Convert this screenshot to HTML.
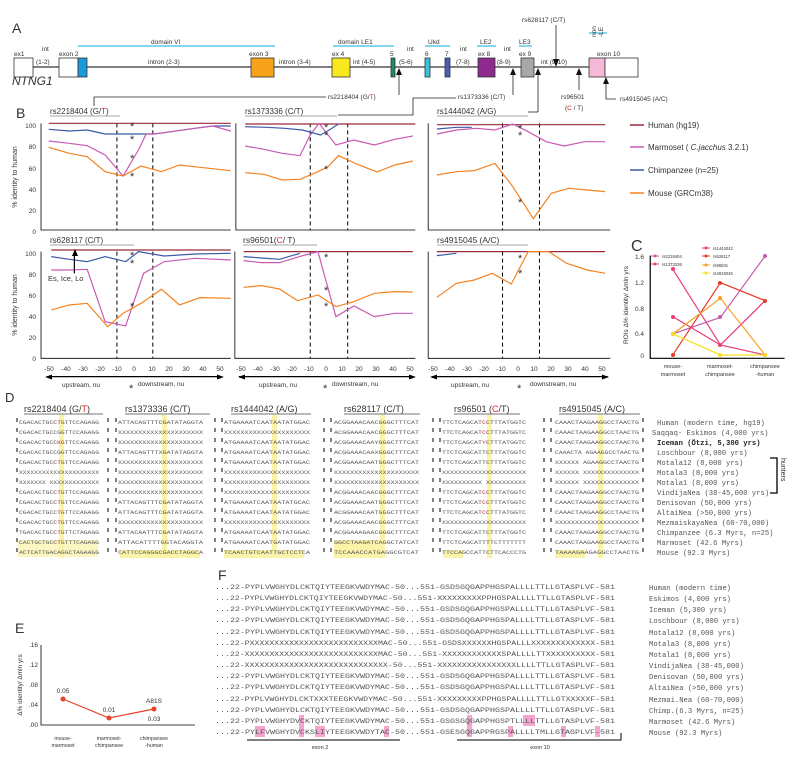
<!DOCTYPE html>
<html><head><meta charset="utf-8"><style>
html,body{margin:0;padding:0;background:#fff}
svg{display:block}
text{font-family:"Liberation Sans",sans-serif;fill:#333}
.m{font-family:"Liberation Mono",monospace;fill:#555}
.ns{vector-effect:non-scaling-stroke;fill:none}
</style></head><body>
<svg width="800" height="757" viewBox="0 0 800 757" xmlns="http://www.w3.org/2000/svg">
<!-- ===== Panel A ===== -->
<text x="12" y="33" font-size="14">A</text>
<line x1="33" y1="67" x2="589" y2="67" stroke="#000" stroke-width="1"/>
<g stroke="#333" stroke-width="0.8">
<rect x="14" y="58" width="19" height="19" fill="#fff"/>
<rect x="59" y="58" width="19" height="19" fill="#fff"/>
<rect x="78" y="58" width="9" height="19" fill="#1a9ad9"/>
<rect x="251" y="58" width="23" height="19" fill="#f7a21b"/>
<rect x="332" y="58" width="18" height="19" fill="#f9e81e"/>
<rect x="391" y="58" width="4" height="19" fill="#1e8a6e"/>
<rect x="425" y="58" width="5" height="19" fill="#3cc0dc"/>
<rect x="445" y="58" width="5" height="19" fill="#4a5fb0"/>
<rect x="478" y="58" width="17" height="19" fill="#8e2a8e"/>
<rect x="521" y="58" width="13" height="19" fill="#a8a8a8"/>
<rect x="589" y="58" width="16" height="19" fill="#f5b8d8"/>
<rect x="605" y="58" width="33" height="19" fill="#fff"/>
</g>
<g stroke="#5ac8e6" stroke-width="1.5">
<line x1="78" y1="46" x2="275" y2="46"/><line x1="333" y1="46" x2="394" y2="46"/>
<line x1="425" y1="46" x2="450" y2="46"/><line x1="477" y1="46" x2="496" y2="46"/>
<line x1="519" y1="46" x2="532" y2="46"/><line x1="589" y1="33" x2="607" y2="33"/>
</g>
<g font-size="6.5">
<text x="14" y="56">ex1</text><text x="42" y="51">int</text><text x="36" y="64">(1-2)</text>
<text x="59" y="56">exon 2</text><text x="148" y="64">intron (2-3)</text>
<text x="249" y="56">exon 3</text><text x="279" y="64">intron (3-4)</text>
<text x="332" y="56">ex 4</text><text x="353" y="64">int (4-5)</text>
<text x="390" y="56">5</text><text x="407" y="51">int</text><text x="399" y="64">(5-6)</text>
<text x="425" y="56">6</text><text x="445" y="56">7</text>
<text x="460" y="51">int</text><text x="456" y="64">(7-8)</text>
<text x="478" y="56">ex 8</text><text x="504" y="51">int</text><text x="497" y="64">(8-9)</text>
<text x="519" y="56">ex 9</text><text x="541" y="64">int (9-10)</text>
<text x="597" y="56">exon 10</text>
<text x="151" y="44">domain  VI</text><text x="338" y="44">domain  LE1</text>
<text x="428" y="44">Ukd</text><text x="480" y="44">LE2</text><text x="519" y="44">LE3</text>
<text transform="translate(596,37) rotate(-90)">non</text>
<text transform="translate(603,37) rotate(-90)">-LE</text>
<text x="522" y="22">rs628117 (C/T)</text>
<text x="328" y="99">rs2218404 (G/<tspan fill="#e02020">T</tspan>)</text>
<text x="458" y="99">rs1373336 (C/T)</text>
<text x="561" y="99">rs96501</text>
<text x="565" y="110">(<tspan fill="#e02020">C</tspan> / T)</text>
<text x="620" y="101">rs4915045 (A/C)</text>
</g>
<text x="12" y="85" font-size="12" font-style="italic">NTNG1</text>
<g stroke="#222" stroke-width="0.8" fill="none">
<line x1="556" y1="25" x2="556" y2="60"/>
<line x1="399" y1="95" x2="399" y2="74"/>
<polyline points="94,106 94,97 326,97"/>
<line x1="513" y1="95" x2="513" y2="74"/>
<polyline points="338,115 413,115 413,98 456,98"/>
<line x1="538" y1="112" x2="538" y2="74"/>
<polyline points="528,112 538,112"/>
<line x1="579" y1="90" x2="579" y2="74"/>
<polyline points="606,99 606,81 606,99 616,99"/>
</g>
<g fill="#111">
<polygon points="553,59 559,59 556,67"/>
<polygon points="396,75 402,75 399,68"/>
<polygon points="510,75 516,75 513,68"/>
<polygon points="535,75 541,75 538,68"/>
<polygon points="576,75 582,75 579,68"/>
<polygon points="603,84 609,84 606,77"/>
</g>

<!-- ===== Panel B ===== -->
<text x="16" y="118" font-size="14">B</text>
<g font-size="8">
<text x="50" y="114">rs2218404 (G/<tspan fill="#e02020">T</tspan>)</text>
<text x="245" y="114">rs1373336 (C/T)</text>
<text x="437" y="114">rs1444042 (A/G)</text>
<text x="50" y="243">rs628117 (C/T)</text>
<text x="243" y="243" font-size="8.5">rs96501(<tspan fill="#e02020">C</tspan>/ T)</text>
<text x="437" y="243" font-size="8.5">rs4915045 (A/C)</text>
</g>
<g stroke="#888" stroke-width="0.8">
<line x1="50" y1="116" x2="120" y2="116"/><line x1="245" y1="116" x2="337" y2="116"/><line x1="437" y1="116" x2="528" y2="116"/>
<line x1="50" y1="245" x2="134" y2="245"/><line x1="243" y1="245" x2="317" y2="245"/><line x1="437" y1="245" x2="528" y2="245"/>
</g>
<g transform="translate(0,110) scale(0.5128,0.3333)">
<g stroke="#000" stroke-width="0.8">
<polyline class="ns" points="80,40 80,360 450,360"/>
<polyline class="ns" points="460,40 460,360 810,360"/>
<polyline class="ns" points="835,40 835,360 1190,360"/>
<polyline class="ns" points="80,425 80,745 450,745"/>
<polyline class="ns" points="458,425 458,745 810,745"/>
<polyline class="ns" points="835,425 835,745 1190,745"/>
</g>
<g stroke="#000" stroke-width="1" stroke-dasharray="4,3">
<line class="ns" x1="228" y1="40" x2="228" y2="360"/><line class="ns" x1="298" y1="40" x2="298" y2="360"/>
<line class="ns" x1="605" y1="40" x2="605" y2="360"/><line class="ns" x1="678" y1="40" x2="678" y2="360"/>
<line class="ns" x1="980" y1="40" x2="980" y2="360"/><line class="ns" x1="1052" y1="40" x2="1052" y2="360"/>
<line class="ns" x1="228" y1="425" x2="228" y2="745"/><line class="ns" x1="298" y1="425" x2="298" y2="745"/>
<line class="ns" x1="605" y1="425" x2="605" y2="745"/><line class="ns" x1="678" y1="425" x2="678" y2="745"/>
<line class="ns" x1="980" y1="425" x2="980" y2="745"/><line class="ns" x1="1052" y1="425" x2="1052" y2="745"/>
</g>
<g stroke-width="1.2">
<line class="ns" stroke="#9b2a3a" x1="95" y1="40" x2="450" y2="40"/>
<polyline class="ns" stroke="#3a5aa8" points="95,58 135,63 170,60 205,72 240,72 300,72 320,68 380,55 415,48 450,48"/>
<polyline class="ns" stroke="#c85ab4" points="95,93 135,100 170,107 205,135 240,198 270,120 285,72 300,72 320,68 380,55 415,48 450,63"/>
<polyline class="ns" stroke="#f58220" points="95,112 135,130 170,140 205,185 240,198 275,168 315,185 350,165 390,172 450,182"/>
<line class="ns" stroke="#9b2a3a" x1="478" y1="42" x2="810" y2="42"/>
<polyline class="ns" stroke="#c85ab4" points="478,108 515,118 550,130 585,137 605,75 622,40 655,105 690,90 730,105 770,88 805,78"/>
<polyline class="ns" stroke="#3a5aa8" points="478,50 520,52 555,55 590,60 625,75 640,62 660,42"/>
<polyline class="ns" stroke="#f58220" points="478,188 515,193 550,210 585,208 620,185 640,170 660,137 700,165 735,186 770,165 805,153"/>
<line class="ns" stroke="#9b2a3a" x1="852" y1="44" x2="1180" y2="44"/>
<polyline class="ns" stroke="#3a5aa8" points="852,57 890,52 920,52"/>
<polyline class="ns" stroke="#c85ab4" points="852,72 890,60 930,55 965,60 1000,42 1030,65 1065,95 1100,108 1140,95 1180,95"/>
<polyline class="ns" stroke="#f58220" points="852,195 890,185 925,182 965,160 1000,230 1040,326 1075,250 1110,235 1145,240 1180,245"/>
<line class="ns" stroke="#9b2a3a" x1="100" y1="420" x2="450" y2="420"/>
<polyline class="ns" stroke="#3a5aa8" points="100,440 135,448 170,455 205,440 245,455 270,425 320,438 380,432 450,430"/>
<polyline class="ns" stroke="#c85ab4" points="100,480 135,480 170,478 205,635 245,648 280,490 320,455 380,445 450,450"/>
<polyline class="ns" stroke="#f58220" points="100,600 135,585 170,580 210,650 240,610 275,580 315,538 350,585 390,563 450,565"/>
<line class="ns" stroke="#9b2a3a" x1="475" y1="425" x2="805" y2="425"/>
<polyline class="ns" stroke="#3a5aa8" points="475,440 510,444 545,448 585,430"/>
<polyline class="ns" stroke="#c85ab4" points="475,452 510,458 545,458 590,437 620,425 655,620 690,588 730,620 770,610 805,610"/>
<polyline class="ns" stroke="#f58220" points="475,532 510,527 545,537 580,572 620,555 655,590 690,575 730,550 770,545 805,546"/>
<line class="ns" stroke="#9b2a3a" x1="852" y1="425" x2="1180" y2="425"/>
<polyline class="ns" stroke="#3a5aa8" points="852,437 890,430"/>
<polyline class="ns" stroke="#f58220" points="852,562 890,520 925,510 960,490 997,522 1030,425 1070,425 1105,460 1145,480 1180,490"/>
<line class="ns" stroke="#000" x1="145" y1="490" x2="145" y2="435"/>
<line class="ns" stroke="#000" x1="92" y1="800" x2="432" y2="800"/>
<line class="ns" stroke="#000" x1="466" y1="800" x2="805" y2="800"/>
<line class="ns" stroke="#000" x1="842" y1="800" x2="1185" y2="800"/>
<polyline class="ns" stroke="#000" points="1268,437 1268,745 1530,745"/>
<polyline class="ns" stroke="#e8407a" points="1312,478 1405,705 1492,735"/>
<polyline class="ns" stroke="#c65bb0" points="1312,672 1405,622 1492,438"/>
<polyline class="ns" stroke="#e83c7a" points="1312,620 1405,705 1492,572"/>
<polyline class="ns" stroke="#e83a2a" points="1312,735 1405,518 1492,572"/>
<polyline class="ns" stroke="#f5a020" points="1312,672 1405,565 1492,735"/>
<polyline class="ns" stroke="#f5e020" points="1312,672 1405,735 1492,735"/>
</g>
</g>
<g fill="#000">
<polygon points="72,256 78,256 75,249"/>
<polygon points="45,377 52,374.5 52,379.5"/><polygon points="224,377 217,374.5 217,379.5"/>
<polygon points="238,377 245,374.5 245,379.5"/><polygon points="416,377 409,374.5 409,379.5"/>
<polygon points="430,377 437,374.5 437,379.5"/><polygon points="609,377 602,374.5 602,379.5"/>
</g>
<g fill="#e8407a"><circle cx="673" cy="269" r="2"/><circle cx="720" cy="345" r="2"/><circle cx="765" cy="355" r="2"/></g>
<g fill="#c65bb0"><circle cx="673" cy="334" r="2"/><circle cx="720" cy="317" r="2"/><circle cx="765" cy="256" r="2"/></g>
<g fill="#e83c7a"><circle cx="673" cy="317" r="2"/></g>
<g fill="#e83a2a"><circle cx="673" cy="355" r="2"/><circle cx="720" cy="283" r="2"/><circle cx="765" cy="301" r="2"/></g>
<g fill="#f5a020"><circle cx="720" cy="298" r="2"/></g>
<g fill="#f5e020"><circle cx="673" cy="334" r="2"/><circle cx="720" cy="355" r="2"/><circle cx="765" cy="355" r="2"/></g>
<g font-size="11">
<text x="130" y="130" fill="#000">*</text><text x="130" y="143" fill="#000">*</text><text x="130" y="162" fill="#000">*</text><text x="130" y="180" fill="#000">*</text>
<text x="324" y="131" fill="#000">*</text><text x="324" y="139" fill="#000">*</text><text x="324" y="173" fill="#000">*</text>
<text x="518" y="132" fill="#000">*</text><text x="518" y="139" fill="#000">*</text><text x="518" y="206" fill="#000">*</text>
<text x="130" y="259" fill="#000">*</text><text x="130" y="267" fill="#000">*</text><text x="130" y="310" fill="#000">*</text>
<text x="324" y="261" fill="#000">*</text><text x="324" y="294" fill="#000">*</text><text x="324" y="310" fill="#000">*</text>
<text x="518" y="262" fill="#000">*</text><text x="518" y="277" fill="#000">*</text>
<text x="129" y="392" fill="#000">*</text><text x="323" y="392" fill="#000">*</text><text x="517" y="392" fill="#000">*</text>
</g>
<text x="48" y="281" font-size="7.5">Es, Ice, Lo</text>
<g font-size="6.5" text-anchor="end">
<text x="36" y="128">100</text><text x="36" y="149">80</text><text x="36" y="171">60</text><text x="36" y="192">40</text><text x="36" y="213">20</text><text x="36" y="234">0</text>
<text x="36" y="256">100</text><text x="36" y="277">80</text><text x="36" y="298">60</text><text x="36" y="319">40</text><text x="36" y="340">20</text><text x="36" y="361">0</text>
</g>
<g font-size="6.5" text-anchor="middle">
<text x="49" y="371">-50</text><text x="66" y="371">-40</text><text x="83" y="371">-30</text><text x="100" y="371">-20</text><text x="117" y="371">-10</text><text x="134" y="371">0</text><text x="152" y="371">10</text><text x="169" y="371">20</text><text x="186" y="371">30</text><text x="203" y="371">40</text><text x="220" y="371">50</text>
<text x="241" y="371">-50</text><text x="258" y="371">-40</text><text x="275" y="371">-30</text><text x="292" y="371">-20</text><text x="309" y="371">-10</text><text x="326" y="371">0</text><text x="342" y="371">10</text><text x="359" y="371">20</text><text x="376" y="371">30</text><text x="393" y="371">40</text><text x="410" y="371">50</text>
<text x="433" y="371">-50</text><text x="450" y="371">-40</text><text x="467" y="371">-30</text><text x="484" y="371">-20</text><text x="501" y="371">-10</text><text x="518" y="371">0</text><text x="534" y="371">10</text><text x="551" y="371">20</text><text x="568" y="371">30</text><text x="585" y="371">40</text><text x="602" y="371">50</text>
</g>
<g font-size="6.5">
<text x="62" y="387">upstream, nu</text><text x="138" y="386">downstream, nu</text>
<text x="259" y="387">upstream, nu</text><text x="332" y="386">downstream, nu</text>
<text x="451" y="387">upstream, nu</text><text x="530" y="386">downstream, nu</text>
</g>
<text transform="translate(17,177) rotate(-90)" font-size="7" text-anchor="middle">% identity to human</text>
<text transform="translate(17,305) rotate(-90)" font-size="7" text-anchor="middle">% identity to human</text>
<g stroke-width="1.5">
<line x1="630" y1="125" x2="644" y2="125" stroke="#9b2a3a"/>
<line x1="630" y1="147" x2="644" y2="147" stroke="#c85ab4"/>
<line x1="630" y1="170" x2="644" y2="170" stroke="#3a5aa8"/>
<line x1="630" y1="193" x2="644" y2="193" stroke="#f58220"/>
</g>
<g font-size="8">
<text x="648" y="128">Human (hg19)</text>
<text x="648" y="150">Marmoset ( <tspan font-style="italic">C.jacchus</tspan> 3.2.1)</text>
<text x="648" y="173">Chimpanzee (n=25)</text>
<text x="648" y="196">Mouse (GRCm38)</text>
</g>
<text x="631" y="251" font-size="16">C</text>
<g font-size="6.5" text-anchor="end">
<text x="644" y="259">1.6</text><text x="644" y="285">1.2</text><text x="644" y="311">0.8</text><text x="644" y="336">0.4</text><text x="644" y="358">0</text>
</g>
<g font-size="5.5" text-anchor="middle">
<text x="673" y="368">mouse-</text><text x="673" y="376">marmoset</text>
<text x="720" y="368">marmoset-</text><text x="720" y="376">chimpansee</text>
<text x="765" y="368">chimpansee</text><text x="765" y="376">-human</text>
</g>
<text transform="translate(628,305) rotate(-90)" font-size="6.5" text-anchor="middle">ROIs  Δ% identity/   Δmln yrs</text>
<g font-size="4.2">
<line x1="651" y1="256" x2="659" y2="256" stroke="#c65bb0"/><circle cx="655" cy="256" r="1.5" fill="#c65bb0"/><text x="662" y="258">rs2218404</text>
<line x1="651" y1="264" x2="659" y2="264" stroke="#e8407a"/><circle cx="655" cy="264" r="1.5" fill="#e8407a"/><text x="662" y="266">rs1373336</text>
<line x1="702" y1="248" x2="710" y2="248" stroke="#e83c7a"/><circle cx="706" cy="248" r="1.5" fill="#e83c7a"/><text x="713" y="250">rs1444042</text>
<line x1="702" y1="256" x2="710" y2="256" stroke="#e83a2a"/><circle cx="706" cy="256" r="1.5" fill="#e83a2a"/><text x="713" y="258">rs628117</text>
<line x1="702" y1="265" x2="710" y2="265" stroke="#f5a020"/><circle cx="706" cy="265" r="1.5" fill="#f5a020"/><text x="713" y="267">rs96501</text>
<line x1="702" y1="273" x2="710" y2="273" stroke="#f5e020"/><circle cx="706" cy="273" r="1.5" fill="#f5e020"/><text x="713" y="275">rs4915045</text>
</g>

<!-- ===== Panel D ===== -->
<text x="5" y="402" font-size="13">D</text>
<g fill="#fbf3a8">
<rect x="59" y="415" width="5" height="143"/><rect x="162" y="415" width="5" height="143"/>
<rect x="272" y="415" width="5" height="143"/><rect x="380" y="415" width="5" height="143"/>
<rect x="487" y="415" width="5" height="143"/><rect x="598" y="415" width="5" height="143"/>
<rect x="18" y="540" width="80" height="17" opacity="0.7"/><rect x="120" y="550" width="80" height="8"/>
<rect x="224" y="550" width="80" height="8"/><rect x="334" y="540" width="50" height="18"/>
<rect x="443" y="550" width="20" height="8"/><rect x="555" y="550" width="30" height="8"/>
</g>
<g font-size="9">
<text x="24" y="412">rs2218404 (G/<tspan fill="#e02020">T</tspan>)</text>
<text x="125" y="412">rs1373336 (C/T)</text>
<text x="231" y="412">rs1444042 (A/G)</text>
<text x="344" y="412">rs628117 (C/T)</text>
<text x="454" y="412">rs96501 (<tspan fill="#e02020">C</tspan>/T)</text>
<text x="559" y="412">rs4915045 (A/C)</text>
</g>
<g stroke="#444" stroke-width="0.8">
<line x1="24" y1="414" x2="103" y2="414"/><line x1="125" y1="414" x2="210" y2="414"/>
<line x1="231" y1="414" x2="311" y2="414"/><line x1="344" y1="414" x2="420" y2="414"/>
<line x1="454" y1="414" x2="520" y2="414"/><line x1="559" y1="414" x2="640" y2="414"/>
</g>
<g stroke="#000" stroke-width="1" stroke-dasharray="4,6">
<line x1="17" y1="418" x2="17" y2="558"/><line x1="108" y1="418" x2="108" y2="558"/><line x1="116" y1="418" x2="116" y2="558"/>
<line x1="215" y1="418" x2="215" y2="558"/><line x1="222" y1="418" x2="222" y2="558"/>
<line x1="324" y1="418" x2="324" y2="558"/><line x1="331" y1="418" x2="331" y2="558"/>
<line x1="433" y1="418" x2="433" y2="558"/><line x1="440" y1="418" x2="440" y2="558"/>
<line x1="544" y1="418" x2="544" y2="558"/><line x1="551" y1="418" x2="551" y2="558"/>
<line x1="643" y1="418" x2="643" y2="558"/>
</g>
<g font-size="5.5">
<text class="m" x="19" y="424" textLength="80" lengthAdjust="spacingAndGlyphs">CGACACTGCC<tspan fill="#e02020">T</tspan>GTTCCAGAGG</text>
<text class="m" x="19" y="434" textLength="80" lengthAdjust="spacingAndGlyphs">CGACACTGCCGGTTCCAGAGG</text>
<text class="m" x="19" y="444" textLength="80" lengthAdjust="spacingAndGlyphs">CGACACTGCC<tspan fill="#e02020">K</tspan>GTTCCAGAGG</text>
<text class="m" x="19" y="454" textLength="80" lengthAdjust="spacingAndGlyphs">CGACACTGCCGGTTCCAGAGG</text>
<text class="m" x="19" y="464" textLength="80" lengthAdjust="spacingAndGlyphs">CGACACTGCC<tspan fill="#e02020">T</tspan>GTTCCAGAGG</text>
<text class="m" x="19" y="474" textLength="80" lengthAdjust="spacingAndGlyphs">XXXXXXXXXXXXXXXXXXXXX</text>
<text class="m" x="19" y="484" textLength="80" lengthAdjust="spacingAndGlyphs">XXXXXXX XXXXXXXXXXXXX</text>
<text class="m" x="19" y="494" textLength="80" lengthAdjust="spacingAndGlyphs">CGACACTGCC<tspan fill="#e02020">T</tspan>GTTCCAGAGG</text>
<text class="m" x="19" y="504" textLength="80" lengthAdjust="spacingAndGlyphs">CGACACTGCC<tspan fill="#e02020">T</tspan>GTTCCAGAGG</text>
<text class="m" x="19" y="514" textLength="80" lengthAdjust="spacingAndGlyphs">CGACACTGCC<tspan fill="#e02020">T</tspan>GTTCCAGAGG</text>
<text class="m" x="19" y="524" textLength="80" lengthAdjust="spacingAndGlyphs">CGACACTGCC<tspan fill="#e02020">T</tspan>GTTCCAGAGG</text>
<text class="m" x="19" y="534" textLength="80" lengthAdjust="spacingAndGlyphs">TGACACTGCC<tspan fill="#e02020">T</tspan>GTTCTAGAGG</text>
<text class="m" x="19" y="544" textLength="80" lengthAdjust="spacingAndGlyphs">CACTGCTGCC<tspan fill="#e02020">T</tspan>GTTTCAGAGG</text>
<text class="m" x="19" y="554" textLength="80" lengthAdjust="spacingAndGlyphs">ACTCATTGACAGGCTAGAAGG</text>
<text class="m" x="118" y="424" textLength="85" lengthAdjust="spacingAndGlyphs">ATTACAGTTTCGATATAGGTA</text>
<text class="m" x="118" y="434" textLength="85" lengthAdjust="spacingAndGlyphs">XXXXXXXXXXXXXXXXXXXXX</text>
<text class="m" x="118" y="444" textLength="85" lengthAdjust="spacingAndGlyphs">XXXXXXXXXXXXXXXXXXXXX</text>
<text class="m" x="118" y="454" textLength="85" lengthAdjust="spacingAndGlyphs">ATTACAGTTTXGATATAGGTA</text>
<text class="m" x="118" y="464" textLength="85" lengthAdjust="spacingAndGlyphs">XXXXXXXXXXXXXXXXXXXXX</text>
<text class="m" x="118" y="474" textLength="85" lengthAdjust="spacingAndGlyphs">XXXXXXXXXXXXXXXXXXXXX</text>
<text class="m" x="118" y="484" textLength="85" lengthAdjust="spacingAndGlyphs">XXXXXXXXXXXXXXXXXXXXX</text>
<text class="m" x="118" y="494" textLength="85" lengthAdjust="spacingAndGlyphs">XXXXXXXXXXXXXXXXXXXXX</text>
<text class="m" x="118" y="504" textLength="85" lengthAdjust="spacingAndGlyphs">ATTACAGTTTCGATATAGGTA</text>
<text class="m" x="118" y="514" textLength="85" lengthAdjust="spacingAndGlyphs">ATTACAGTTTCGATATAGGTA</text>
<text class="m" x="118" y="524" textLength="85" lengthAdjust="spacingAndGlyphs">XXXXXXXXXXXXXXXXXXXXX</text>
<text class="m" x="118" y="534" textLength="85" lengthAdjust="spacingAndGlyphs">ATTACAATTTCGATATAGGTA</text>
<text class="m" x="118" y="544" textLength="85" lengthAdjust="spacingAndGlyphs">ATTACATTTTGGTACAGGTA</text>
<text class="m" x="118" y="554" textLength="85" lengthAdjust="spacingAndGlyphs">CATTCCAGGGCGACCTAGGCA</text>
<text class="m" x="224" y="424" textLength="86" lengthAdjust="spacingAndGlyphs">ATGAAAATCAATAATATGGAC</text>
<text class="m" x="224" y="434" textLength="86" lengthAdjust="spacingAndGlyphs">XXXXXXXXXXXXXXXXXXXXX</text>
<text class="m" x="224" y="444" textLength="86" lengthAdjust="spacingAndGlyphs">ATGAAAATCAATAATATGGAC</text>
<text class="m" x="224" y="454" textLength="86" lengthAdjust="spacingAndGlyphs">ATGAAAATCAATAATATGGAC</text>
<text class="m" x="224" y="464" textLength="86" lengthAdjust="spacingAndGlyphs">ATGAAAATCAATAATATGGAC</text>
<text class="m" x="224" y="474" textLength="86" lengthAdjust="spacingAndGlyphs">XXXXXXXXXXXXXXXXXXXXX</text>
<text class="m" x="224" y="484" textLength="86" lengthAdjust="spacingAndGlyphs">XXXXXXXXXXXXXXXXXXXXX</text>
<text class="m" x="224" y="494" textLength="86" lengthAdjust="spacingAndGlyphs">XXXXXXXXXXXXXXXXXXXXX</text>
<text class="m" x="224" y="504" textLength="86" lengthAdjust="spacingAndGlyphs">ATGAAAATCAATAATATGCAC</text>
<text class="m" x="224" y="514" textLength="86" lengthAdjust="spacingAndGlyphs">ATGAAAATCAATAATATGGAC</text>
<text class="m" x="224" y="524" textLength="86" lengthAdjust="spacingAndGlyphs">XXXXXXXXXXXXXXXXXXXXX</text>
<text class="m" x="224" y="534" textLength="86" lengthAdjust="spacingAndGlyphs">ATGAAAATCAATAATATGGAC</text>
<text class="m" x="224" y="544" textLength="86" lengthAdjust="spacingAndGlyphs">ATGAAAATCAATGATATGGAC</text>
<text class="m" x="224" y="554" textLength="86" lengthAdjust="spacingAndGlyphs">TCAACTGTCAATTGCTCCTCA</text>
<text class="m" x="334" y="424" textLength="85" lengthAdjust="spacingAndGlyphs">ACGGAAACAACGGGCTTTCAT</text>
<text class="m" x="334" y="434" textLength="85" lengthAdjust="spacingAndGlyphs">ACGGAAACAACGGGCTTTCAT</text>
<text class="m" x="334" y="444" textLength="85" lengthAdjust="spacingAndGlyphs">ACGGAAACAAYGGGCTTTCAT</text>
<text class="m" x="334" y="454" textLength="85" lengthAdjust="spacingAndGlyphs">ACGGAAACAAXGGGCTTTCAT</text>
<text class="m" x="334" y="464" textLength="85" lengthAdjust="spacingAndGlyphs">ACGGAAACAATGGGCTTTCAT</text>
<text class="m" x="334" y="474" textLength="85" lengthAdjust="spacingAndGlyphs">XXXXXXXXXXXXXXXXXXXXX</text>
<text class="m" x="334" y="484" textLength="85" lengthAdjust="spacingAndGlyphs">XXXXXXXXXXXXXXXXXXXXX</text>
<text class="m" x="334" y="494" textLength="85" lengthAdjust="spacingAndGlyphs">ACGGAAACAACGGGCTTTCAT</text>
<text class="m" x="334" y="504" textLength="85" lengthAdjust="spacingAndGlyphs">ACGGAAACAATGGGCTTTCAT</text>
<text class="m" x="334" y="514" textLength="85" lengthAdjust="spacingAndGlyphs">ACGGAAACAATGGGCTTTCAT</text>
<text class="m" x="334" y="524" textLength="85" lengthAdjust="spacingAndGlyphs">ACGGAAACAACGGGCTTTCAT</text>
<text class="m" x="334" y="534" textLength="85" lengthAdjust="spacingAndGlyphs">ACGGAAAGAACGGGCTTTCAT</text>
<text class="m" x="334" y="544" textLength="85" lengthAdjust="spacingAndGlyphs">GGCCTAAGATCAGGCTATCAT</text>
<text class="m" x="334" y="554" textLength="85" lengthAdjust="spacingAndGlyphs">TCCAAACCATGAGGCGTCAT</text>
<text class="m" x="442" y="424" textLength="84" lengthAdjust="spacingAndGlyphs">TTCTCAGCAT<tspan fill="#e02020">C</tspan>CTTTATGGTC</text>
<text class="m" x="442" y="434" textLength="84" lengthAdjust="spacingAndGlyphs">TTCTCAGCAT<tspan fill="#e02020">C</tspan>CTTTATGGTC</text>
<text class="m" x="442" y="444" textLength="84" lengthAdjust="spacingAndGlyphs">TTCTCAGCAT<tspan fill="#e02020">Y</tspan>CTTTATGGTC</text>
<text class="m" x="442" y="454" textLength="84" lengthAdjust="spacingAndGlyphs">TTCTCAGCATTCTTTATGGTC</text>
<text class="m" x="442" y="464" textLength="84" lengthAdjust="spacingAndGlyphs">TTCTCAGCATTCTTTATGGTC</text>
<text class="m" x="442" y="474" textLength="84" lengthAdjust="spacingAndGlyphs">XXXXXXXXXXXXXXXXXXXXX</text>
<text class="m" x="442" y="484" textLength="84" lengthAdjust="spacingAndGlyphs">XXXXXXXXXX XXXXXXXXXX</text>
<text class="m" x="442" y="494" textLength="84" lengthAdjust="spacingAndGlyphs">TTCTCAGCAT<tspan fill="#e02020">C</tspan>CTTTATGGTC</text>
<text class="m" x="442" y="504" textLength="84" lengthAdjust="spacingAndGlyphs">TTCTCAGCAT<tspan fill="#e02020">C</tspan>CTTTATGGTC</text>
<text class="m" x="442" y="514" textLength="84" lengthAdjust="spacingAndGlyphs">TTCTCAGCAT<tspan fill="#e02020">C</tspan>CTTTATGGTC</text>
<text class="m" x="442" y="524" textLength="84" lengthAdjust="spacingAndGlyphs">XXXXXXXXXXXXXXXXXXXXX</text>
<text class="m" x="442" y="534" textLength="84" lengthAdjust="spacingAndGlyphs">TTCTCAGCATTCTTTATGGTC</text>
<text class="m" x="442" y="544" textLength="84" lengthAdjust="spacingAndGlyphs">TTCTCAGCATTTTCTTTTTTT</text>
<text class="m" x="442" y="554" textLength="84" lengthAdjust="spacingAndGlyphs">TTCCAGCCATTCTTCACCCTG</text>
<text class="m" x="555" y="424" textLength="84" lengthAdjust="spacingAndGlyphs">CAAACTAAGAAGGCCTAACTG</text>
<text class="m" x="555" y="434" textLength="84" lengthAdjust="spacingAndGlyphs">CAAACTAAGAAGGCCTAACTG</text>
<text class="m" x="555" y="444" textLength="84" lengthAdjust="spacingAndGlyphs">CAAACTAAGAAGGCCTAACTG</text>
<text class="m" x="555" y="454" textLength="84" lengthAdjust="spacingAndGlyphs">CAAACTA AGAAGGCCTAACTG</text>
<text class="m" x="555" y="464" textLength="84" lengthAdjust="spacingAndGlyphs">XXXXXX AGAAGGCCTAACTG</text>
<text class="m" x="555" y="474" textLength="84" lengthAdjust="spacingAndGlyphs">XXXXXX XXXXXXXXXXXXXX</text>
<text class="m" x="555" y="484" textLength="84" lengthAdjust="spacingAndGlyphs">XXXXXX XXXXXXXXXXXXXX</text>
<text class="m" x="555" y="494" textLength="84" lengthAdjust="spacingAndGlyphs">CAAACTAAGAAGGCCTAACTG</text>
<text class="m" x="555" y="504" textLength="84" lengthAdjust="spacingAndGlyphs">CAAACTAAGAAGGCCTAACTG</text>
<text class="m" x="555" y="514" textLength="84" lengthAdjust="spacingAndGlyphs">CAAACTAAGAAGGCCTAACTG</text>
<text class="m" x="555" y="524" textLength="84" lengthAdjust="spacingAndGlyphs">XXXXXXXXXXXXXXXXXXXXX</text>
<text class="m" x="555" y="534" textLength="84" lengthAdjust="spacingAndGlyphs">CAAACTAAGAAGGCCTAACTG</text>
<text class="m" x="555" y="544" textLength="84" lengthAdjust="spacingAndGlyphs">CAAACTAAGAAGGCCTAACTG</text>
<text class="m" x="555" y="554" textLength="84" lengthAdjust="spacingAndGlyphs">TAAAAGAAGAGGCCTAACTG</text>
</g>
<g font-size="7.2">
<text class="m" x="657" y="425">Human (modern time, hg19)</text>
<text class="m" x="652" y="435">Saqqaq- Eskimos (4,000 yrs)</text>
<text class="m" x="657" y="445" font-weight="bold" style="fill:#222">Iceman (Ötzi, 5,300 yrs)</text>
<text class="m" x="657" y="455">Loschbour (8,000 yrs)</text>
<text class="m" x="657" y="465">Motala12 (8,000 yrs)</text>
<text class="m" x="657" y="475">Motala3 (8,000 yrs)</text>
<text class="m" x="657" y="485">Motala1 (8,000 yrs)</text>
<text class="m" x="657" y="495">VindijaNea (38-45,000 yrs)</text>
<text class="m" x="657" y="505">Denisovan (50,000 yrs)</text>
<text class="m" x="657" y="515">AltaiNea (&gt;50,000 yrs)</text>
<text class="m" x="657" y="525">MezmaiskayaNea  (60-70,000)</text>
<text class="m" x="657" y="535">Chimpanzee (6.3 Myrs, n=25)</text>
<text class="m" x="657" y="545">Marmoset (42.6 Myrs)</text>
<text class="m" x="657" y="555">Mouse (92.3 Myrs)</text>
</g>
<polyline points="770,458 777,458 777,493 770,493" fill="none" stroke="#000" stroke-width="1.3"/>
<text transform="translate(781,458) rotate(90)" font-size="7">hunters</text>

<!-- ===== Panel E ===== -->
<text x="15" y="633" font-size="14">E</text>
<polyline points="41,645 41,725 195,725" fill="none" stroke="#000" stroke-width="0.8"/>
<g font-size="6.5" text-anchor="end">
<text x="38" y="647">.16</text><text x="38" y="667">.12</text><text x="38" y="687">.08</text><text x="38" y="707">.04</text><text x="38" y="727">.00</text>
</g>
<polyline points="63,699 109,718 154,709" fill="none" stroke="#e8402a" stroke-width="1.2"/>
<g fill="#e8402a"><circle cx="63" cy="699" r="2.5"/><circle cx="109" cy="718" r="2.5"/><circle cx="154" cy="709" r="2.5"/></g>
<g font-size="6.5" text-anchor="middle">
<text x="63" y="693">0.05</text><text x="109" y="712">0.01</text><text x="154" y="703">A81S</text><text x="154" y="721">0.03</text>
</g>
<g font-size="5.2" text-anchor="middle">
<text x="63" y="740">mouse-</text><text x="63" y="747">marmoset</text>
<text x="109" y="740">marmoset-</text><text x="109" y="747">chimpansee</text>
<text x="154" y="740">chimpansee</text><text x="154" y="747">-human</text>
</g>
<text transform="translate(22,685) rotate(-90)" font-size="6.5" text-anchor="middle">Δ% identity/    Δmln yrs</text>

<!-- ===== Panel F ===== -->
<text x="218" y="580" font-size="14">F</text>
<g fill="#f4a6d0">
<rect x="299" y="715" width="5" height="22"/><rect x="523" y="715" width="12" height="11"/><rect x="467" y="715" width="5" height="22"/>
<rect x="255" y="726" width="10" height="11"/><rect x="315" y="726" width="10" height="11"/><rect x="384" y="726" width="5" height="11"/>
<rect x="508" y="726" width="5" height="11"/><rect x="561" y="726" width="5" height="11"/><rect x="595" y="726" width="5" height="11"/>
</g>
<g font-size="6.3">
<text class="m" x="215" y="589" textLength="400" lengthAdjust="spacingAndGlyphs">...22-PYPLVWGHYDLCKTQIYTEEGKVWDYMAC-50...551-GSDSGQGAPPHGSPALLLLTTLLGTASPLVF-581</text>
<text class="m" x="215" y="600" textLength="400" lengthAdjust="spacingAndGlyphs">...22-PYPLVWGHYDLCKTQIYTEEGKVWDYMAC-50...551-XXXXXXXXXPPHGSPALLLLTTLLGTASPLVF-581</text>
<text class="m" x="215" y="611" textLength="400" lengthAdjust="spacingAndGlyphs">...22-PYPLVWGHYDLCKTQIYTEEGKVWDYMAC-50...551-GSDSGQGAPPHGSPALLLLTTLLGTASPLVF-581</text>
<text class="m" x="215" y="622" textLength="400" lengthAdjust="spacingAndGlyphs">...22-PYPLVWGHYDLCKTQIYTEEGKVWDYMAC-50...551-GSDSGQGAPPHGSPALLLLTTLLGTASPLVF-581</text>
<text class="m" x="215" y="634" textLength="400" lengthAdjust="spacingAndGlyphs">...22-PYPLVWGHYDLCKTQIYTEEGKVWDYMAC-50...551-GSDSGQGAPPHGSPALLLLTTLLGTASPLVF-581</text>
<text class="m" x="215" y="645" textLength="400" lengthAdjust="spacingAndGlyphs">...22-PXXXXXXXXXXXXXXXXXXXXXXXXXXMAC-50...551-GSDSXXXXXXHGSPALLLXXXXXXXXXXXXX-581</text>
<text class="m" x="215" y="656" textLength="400" lengthAdjust="spacingAndGlyphs">...22-XXXXXXXXXXXXXXXXXXXXXXXXXXXMAC-50...551-XXXXXXXXXXXXSPALLLLTTXXXXXXXXXX-581</text>
<text class="m" x="215" y="667" textLength="400" lengthAdjust="spacingAndGlyphs">...22-XXXXXXXXXXXXXXXXXXXXXXXXXXXXX-50...551-XXXXXXXXXXXXXXXXLLLLTTLLGTASPLVF-581</text>
<text class="m" x="215" y="678" textLength="400" lengthAdjust="spacingAndGlyphs">...22-PYPLVWGHYDLCKTQIYTEEGKVWDYMAC-50...551-GSDSGQGAPPHGSPALLLLTTLLGTASPLVF-581</text>
<text class="m" x="215" y="689" textLength="400" lengthAdjust="spacingAndGlyphs">...22-PYPLVWGHYDLCKTQIYTEEGKVWDYMAC-50...551-GSDSGQGAPPHGSPALLLLTTLLGTASPLVF-581</text>
<text class="m" x="215" y="701" textLength="400" lengthAdjust="spacingAndGlyphs">...22-PYPLVWGHYDLCKTXXXTEEGKVWDYMAC-50...551-XXXXXXXXXPPHGSPALLLLTTLLGTXXXXXF-581</text>
<text class="m" x="215" y="712" textLength="400" lengthAdjust="spacingAndGlyphs">...22-PYPLVWGHYDLCKTQIYTEEGKVWDYMAC-50...551-GSDSGQGAPPHGSPALLLLTTLLGTASPLVF-581</text>
<text class="m" x="215" y="723" textLength="400" lengthAdjust="spacingAndGlyphs">...22-PYPLVWGHYDVCKTQIYTEEGKVWDYMAC-50...551-GSGSGQGAPPHGSPTLLLLTTLLGTASPLVF-581</text>
<text class="m" x="215" y="734" textLength="400" lengthAdjust="spacingAndGlyphs">...22-PYLFVWGHYDVCKSLIYTEEGKVWDYTAC-50...551-GSESGQGAPPRGSPALLLLTMLLGTAGPLVF-581</text>
</g>
<g font-size="7.2">
<text class="m" x="649" y="590">Human (modern time)</text>
<text class="m" x="649" y="601">Eskimos (4,000 yrs)</text>
<text class="m" x="649" y="612">Iceman (5,300 yrs)</text>
<text class="m" x="649" y="623">Loschbour (8,000 yrs)</text>
<text class="m" x="649" y="635">Motala12 (8,000 yrs)</text>
<text class="m" x="649" y="646">Motala3 (8,000 yrs)</text>
<text class="m" x="649" y="657">Motala1 (8,000 yrs)</text>
<text class="m" x="649" y="668">VindijaNea (38-45,000)</text>
<text class="m" x="649" y="679">Denisovan (50,000 yrs)</text>
<text class="m" x="649" y="690">AltaiNea (&gt;50,000 yrs)</text>
<text class="m" x="649" y="702">Mezmai.Nea (60-70,000)</text>
<text class="m" x="649" y="713">Chimp.(6.3 Myrs, n=25)</text>
<text class="m" x="649" y="724">Marmoset (42.6 Myrs)</text>
<text class="m" x="649" y="735">Mouse (92.3 Myrs)</text>
</g>
<g stroke="#000" stroke-width="1" fill="none">
<line x1="247" y1="740" x2="400" y2="740"/>
<polyline points="457,740 621,740 621,733"/>
</g>
<text x="320" y="749" font-size="5.5" text-anchor="middle">exon 2</text>
<text x="540" y="749" font-size="5.5" text-anchor="middle">exon 10</text>
</svg>
</body></html>
